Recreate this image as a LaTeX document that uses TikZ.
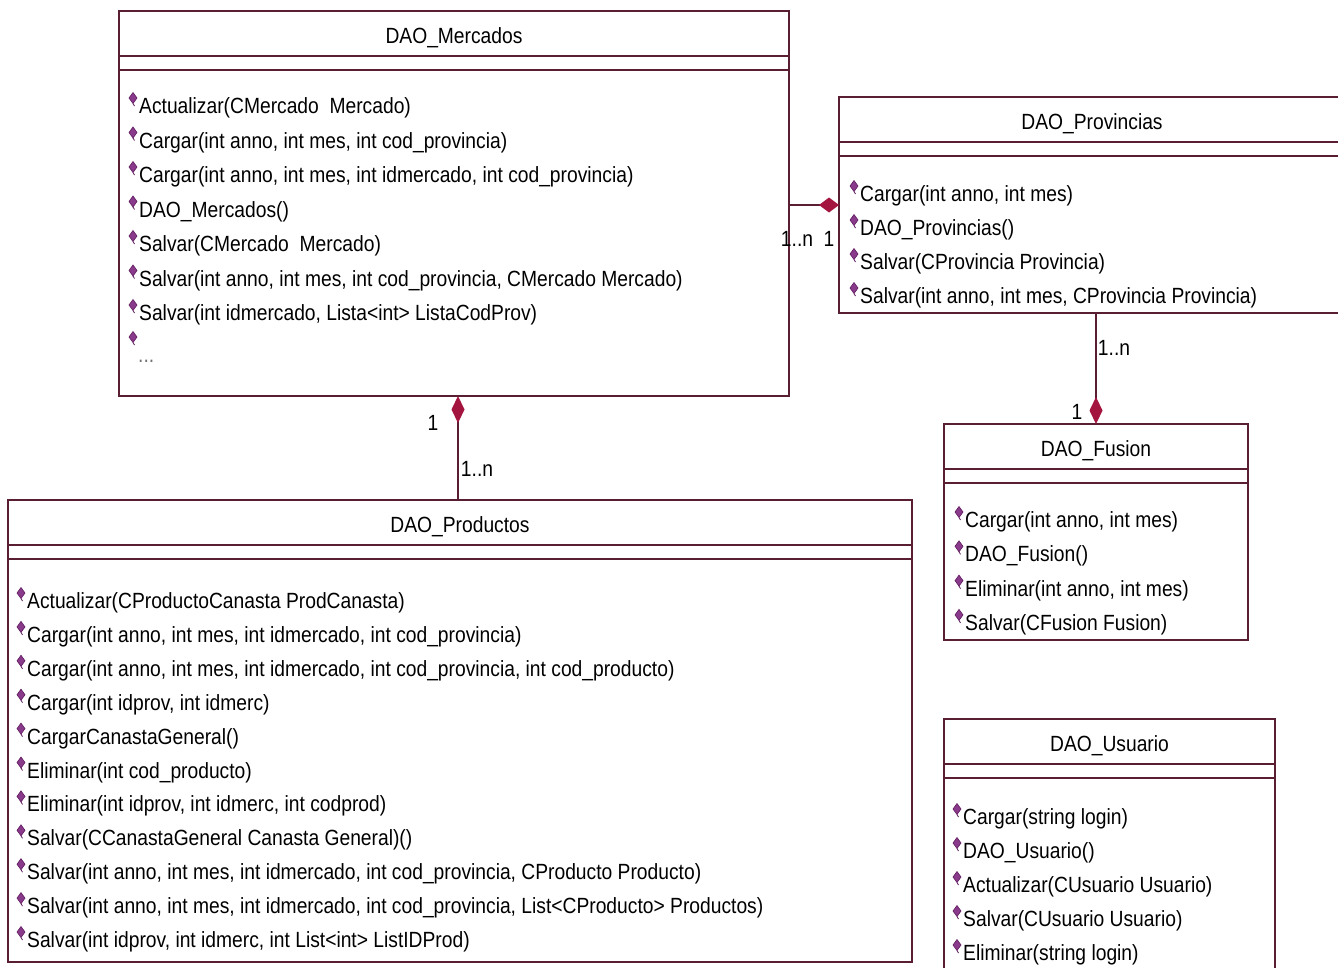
\documentclass[tikz,border=0pt]{standalone}
\usepackage{fontspec}
\setmainfont{Liberation Sans}[FakeStretch=0.875]
\usetikzlibrary{arrows.meta}
\newcommand\umlfont{\fontsize{22pt}{26pt}\selectfont}
\definecolor{umlline}{HTML}{5A1E32}
\definecolor{umldiam}{HTML}{A3143F}
\definecolor{umlicon}{HTML}{8A3A8A}
\definecolor{umliconedge}{HTML}{5E1A5E}
\tikzset{
  classbox/.style={draw=umlline, line width=1.6pt, inner sep=0pt, outer sep=0pt, fill=white},
  classline/.style={draw=umlline, line width=1.6pt},
  classtitle/.style={font=\umlfont, inner sep=0pt},
  op/.style={font=\umlfont, anchor=west, inner sep=0pt, text height=16pt, text depth=1pt},
  mult/.style={font=\umlfont, inner sep=0pt},
  assoc/.style={draw=umlline, line width=1.4pt},
  compv/.style={assoc, {Diamond[length=27pt, width=13pt, fill=umldiam, color=umldiam]}-},
  comph/.style={assoc, -{Diamond[length=20pt, width=15pt, fill=umldiam, color=umldiam]}},
  compd/.style={assoc, -{Diamond[length=27pt, width=13pt, fill=umldiam, color=umldiam]}},
  opicon/.pic={
    \filldraw[fill=umlicon, draw=umliconedge, line width=0.6pt]
      (0,-5.5) -- (4,0) -- (0,5.5) -- (-4,0) -- cycle;
    \draw[umliconedge, line width=0.8pt] (0,5.5) -- (1.5,8);
  }
}
% one class: box, title compartment, empty attribute compartment
\newcommand\umlclass[6]{% name, cx, cy, width, height, title
  \node[classbox, minimum width=#4pt, minimum height=#5pt] (#1) at (#2,#3) {};
  \node[classtitle] (#1-title) at ([yshift=-26.5pt]#1.north) {#6};
  \draw[classline] ([yshift=-45pt]#1.north west) -- ([yshift=-45pt]#1.north east);
  \draw[classline] ([yshift=-59pt]#1.north west) -- ([yshift=-59pt]#1.north east);
}
% list of operations with their visibility icons
\newcommand\oplist[5]{% name, x, first y, step, items
  \foreach \txt [count=\k] in {#5} {
    \node[op] (#1-\k) at (#2, {#3+(\k-1)*#4}) {\txt};
    \pic at ([shift={(-6pt,8pt)}]#1-\k.west) {opicon};
  }
}
\begin{document}
\begin{tikzpicture}[x=1pt, y=-1pt]
\useasboundingbox (0,0) rectangle (1338,967);
\clip (0,0) rectangle (1338,967);
\fill[white] (0,0) rectangle (1338,967);

% classes
\umlclass{mercados}{454}{203.5}{670}{385}{DAO\_Mercados}
\umlclass{provincias}{1092}{205}{506}{216}{DAO\_Provincias}
\umlclass{productos}{460}{731}{904}{462}{DAO\_Productos}
\umlclass{fusion}{1096}{532}{304}{216}{DAO\_Fusion}
\umlclass{usuario}{1109.5}{849.5}{331}{261}{DAO\_Usuario}

% operations
\oplist{mercados}{139}{106}{34.5}{
  {Actualizar(CMercado\ \ Mercado)},
  {Cargar(int anno, int mes, int cod\_provincia)},
  {Cargar(int anno, int mes, int idmercado, int cod\_provincia)},
  {DAO\_Mercados()},
  {Salvar(CMercado\ \ Mercado)},
  {Salvar(int anno, int mes, int cod\_provincia, CMercado Mercado)},
  {Salvar(int idmercado, Lista<int> ListaCodProv)}}
\pic at (133,337) {opicon};
\node[op, text height=4pt, text depth=0pt, text=black!55] (mercados-more) at (138,360) {...};

\oplist{provincias}{860}{194}{34}{
  {Cargar(int anno, int mes)},
  {DAO\_Provincias()},
  {Salvar(CProvincia Provincia)},
  {Salvar(int anno, int mes, CProvincia Provincia)}}

\oplist{productos}{27}{601}{33.9}{
  {Actualizar(CProductoCanasta ProdCanasta)},
  {Cargar(int anno, int mes, int idmercado, int cod\_provincia)},
  {Cargar(int anno, int mes, int idmercado, int cod\_provincia, int cod\_producto)},
  {Cargar(int idprov, int idmerc)},
  {CargarCanastaGeneral()},
  {Eliminar(int cod\_producto)},
  {Eliminar(int idprov, int idmerc, int codprod)},
  {Salvar(CCanastaGeneral Canasta General)()},
  {Salvar(int anno, int mes, int idmercado, int cod\_provincia, CProducto Producto)},
  {Salvar(int anno, int mes, int idmercado, int cod\_provincia, List<CProducto> Productos)},
  {Salvar(int idprov, int idmerc, int List<int> ListIDProd)}}

\oplist{fusion}{965}{520}{34.3}{
  {Cargar(int anno, int mes)},
  {DAO\_Fusion()},
  {Eliminar(int anno, int mes)},
  {Salvar(CFusion Fusion)}}

\oplist{usuario}{963}{817}{34}{
  {Cargar(string login)},
  {DAO\_Usuario()},
  {Actualizar(CUsuario Usuario)},
  {Salvar(CUsuario Usuario)},
  {Eliminar(string login)}}

% compositions
\coordinate (mpx) at (458,0);
\draw[comph] (mercados.east |- provincias.west) -- (provincias.west);
\draw[compv] (mercados.south -| mpx) -- (productos.north -| mpx);
\draw[compd] (provincias.south -| fusion.north) -- (fusion.north);

% multiplicities
\node[mult] (mp-many) at (797,239) {1..n};
\node[mult] (mp-one) at (829,239) {1};
\node[mult] (mq-one) at (433,423) {1};
\node[mult] (mq-many) at (477,469) {1..n};
\node[mult] (pf-many) at (1114,348) {1..n};
\node[mult] (pf-one) at (1077,412) {1};
\end{tikzpicture}
\end{document}
